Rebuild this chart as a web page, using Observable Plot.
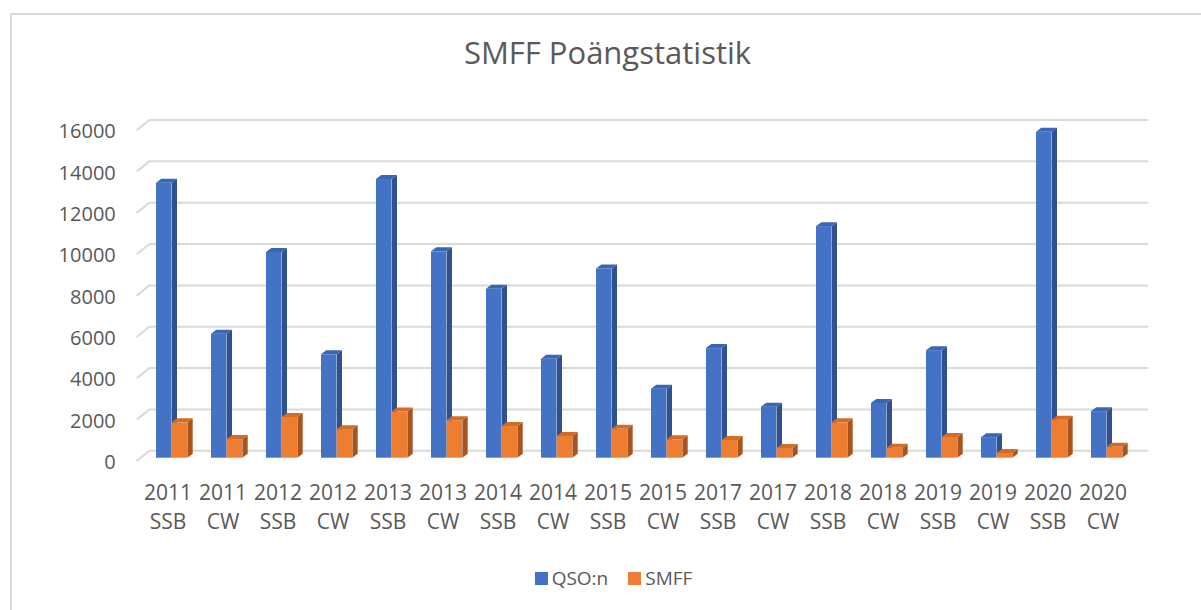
<!DOCTYPE html>
<html><head><meta charset="utf-8">
<script src="https://cdn.jsdelivr.net/npm/d3@7"></script>
<script src="https://cdn.jsdelivr.net/npm/@observablehq/plot@0.6"></script>
<style>
html,body{margin:0;padding:0;background:#fff;overflow:hidden;}
#wrap{position:relative;width:1201px;height:610px;overflow:hidden;font-family:"Open Sans",sans-serif;color:#595959;}
#frame{position:absolute;left:10px;top:13px;width:1300px;height:700px;border:2px solid #d9d9d9;box-sizing:border-box;}
#title{position:absolute;left:0;top:36px;width:1215px;text-align:center;font-size:31px;line-height:32px;white-space:nowrap;}
#chart{position:absolute;left:0;top:90px;}
#legend{position:absolute;top:566px;left:0;width:1227px;display:flex;justify-content:center;align-items:center;font-size:19px;line-height:24px;}
.sw{display:inline-block;width:13px;height:13px;margin-right:4px;}
.item{display:flex;align-items:center;margin:0 10px;}
</style>
</head><body>
<div id="wrap">
  <div id="frame"></div>
  <div id="title">SMFF Poängstatistik</div>
  <div id="chart"></div>
  <div id="legend"></div>
</div>
<script>
const years  = ["2011","2011","2012","2012","2013","2013","2014","2014","2015","2015","2017","2017","2018","2018","2019","2019","2020","2020"];
const modes  = ["SSB","CW","SSB","CW","SSB","CW","SSB","CW","SSB","CW","SSB","CW","SSB","CW","SSB","CW","SSB","CW"];
const qso    = [13300,6000,9950,5000,13480,9980,8170,4780,9150,3340,5300,2470,11200,2650,5200,990,15760,2250];
const smff   = [1710,900,1970,1380,2230,1810,1530,1050,1400,890,860,470,1710,480,1000,230,1840,530];
const yTicks = [0,2000,4000,6000,8000,10000,12000,14000,16000];
const seriesNames = ["QSO:n","SMFF"];
const colors = {front:["#4472C4","#ED7D31"], side:["#2F528F","#A9541F"], top:["#3A66B6","#D46C27"]};

const labels = years.map((y,i) => y + "\n" + modes[i]);
const rows = labels.map((c,i) => ({cat:c, qso:qso[i], smff:smff[i]}));

const bandW = 55.35, barW = 15.7, off0 = 16;
const ddx = 5.3, ddy = -4;

function faces(key, s, offset) {
  return (index, scales) => {
    const g = d3.create("svg:g");
    const {x, y} = scales;
    rows.forEach(r => {
      const x0 = x(r.cat) + offset, x1 = x0 + barW;
      const yt = y(r[key]), yb = y(0);
      g.append("polygon")
        .attr("points", [[x1,yb],[x1+ddx,yb+ddy],[x1+ddx,yt+ddy],[x1,yt]].map(p=>p.join(",")).join(" "))
        .attr("fill", colors.side[s]);
      g.append("polygon")
        .attr("points", [[x0,yt],[x0+ddx,yt+ddy],[x1+ddx,yt+ddy],[x1,yt]].map(p=>p.join(",")).join(" "))
        .attr("fill", colors.top[s]);
    });
    return g.node();
  };
}

function diagonals(index, scales, channels, dims) {
  const g = d3.create("svg:g");
  const {y} = scales;
  yTicks.forEach(v => {
    g.append("line")
      .attr("x1", dims.marginLeft - 0.6).attr("y1", y(v) + 3.3)
      .attr("x2", dims.marginLeft + 12.7).attr("y2", y(v) - 7.4)
      .attr("stroke", "#d9d9d9").attr("stroke-width", 2);
  });
  return g.node();
}

const ml = 137.3;
const width = 1201;
const mr = width - (ml + bandW * labels.length);

const chart = Plot.plot({
  width: width,
  height: 460,
  marginLeft: ml,
  marginRight: mr,
  marginTop: 36.9,
  marginBottom: 92.3,
  style: {fontFamily: "'Open Sans', sans-serif", fontSize: "20px", color: "#595959", background: "transparent"},
  x: {domain: labels, padding: 0},
  y: {domain: [0, 16000]},
  marks: [
    Plot.ruleY(yTicks, {y: d => d, dy: -7.4, insetLeft: 12.7, insetRight: -14.4, stroke: "#d9d9d9", strokeWidth: 2}),
    diagonals,
    Plot.axisY({ticks: yTicks, tickSize: 0, tickPadding: 22, dy: 4.5, tickFormat: d => String(d), label: null, fill: "#595959"}),
    Plot.axisX({tickSize: 0, tickPadding: 21, lineHeight: 1.4, fontSize: 21, label: null, fill: "#595959"}),
    Plot.barY(rows, {x: "cat", y: "qso", fill: colors.front[0], insetLeft: off0, insetRight: bandW - off0 - barW}),
    faces("qso", 0, off0),
    Plot.barY(rows, {x: "cat", y: "smff", fill: colors.front[1], insetLeft: off0 + barW, insetRight: bandW - off0 - 2*barW}),
    faces("smff", 1, off0 + barW)
  ]
});
document.getElementById("chart").appendChild(chart);

const leg = document.getElementById("legend");
seriesNames.forEach((n,i) => {
  const it = document.createElement("span");
  it.className = "item";
  it.innerHTML = `<span class="sw" style="background:${colors.front[i]}"></span><span>${n}</span>`;
  leg.appendChild(it);
});
</script>
</body></html>
